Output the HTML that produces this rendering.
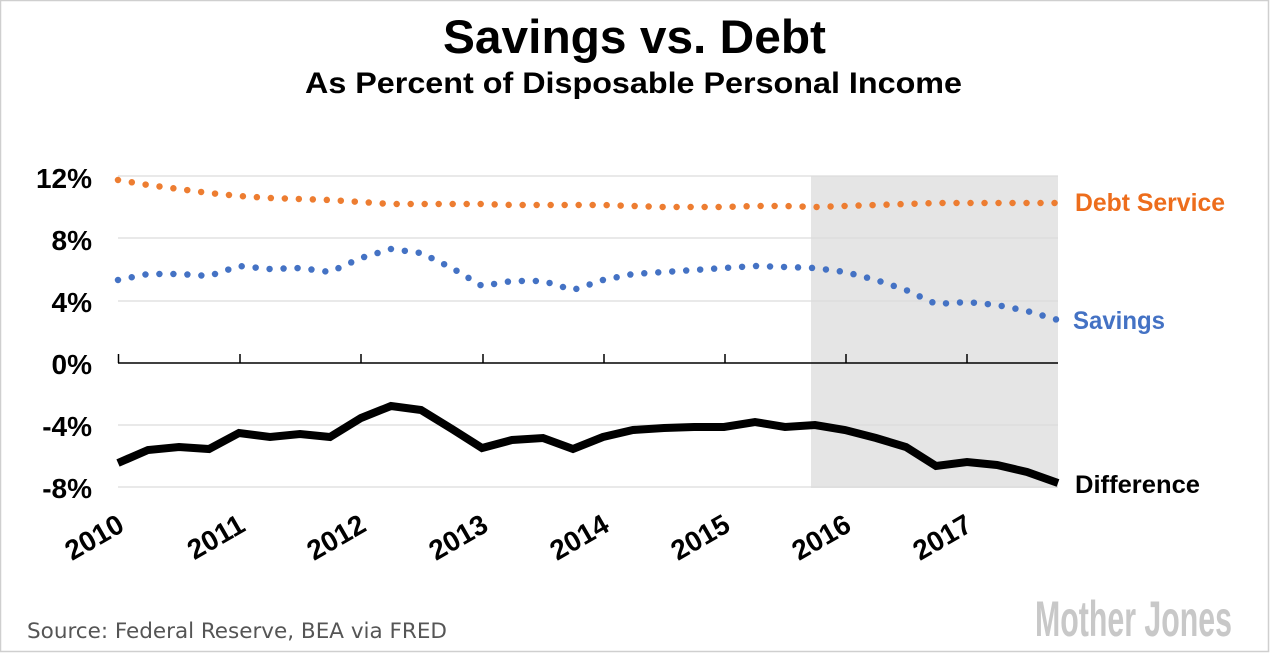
<!DOCTYPE html>
<html><head><meta charset="utf-8"><style>
html,body{margin:0;padding:0;background:#fff;}
svg{display:block;}
</style></head><body>
<svg width="1270" height="653" viewBox="0 0 1270 653" xmlns="http://www.w3.org/2000/svg" font-family="Liberation Sans, sans-serif">
<rect x="0.5" y="0.5" width="1268" height="651" fill="#fff" stroke="#cfcfcf" stroke-width="1.5"/>
<text x="443" y="53" textLength="383" lengthAdjust="spacingAndGlyphs" font-size="47" font-weight="bold" fill="#000">Savings vs. Debt</text>
<text x="305" y="93" textLength="657" lengthAdjust="spacingAndGlyphs" font-size="30" font-weight="bold" fill="#000">As Percent of Disposable Personal Income</text>
<rect x="811" y="176" width="247" height="312" fill="#e5e5e5"/>
<g stroke="#dcdcdc" stroke-width="1.2">
<line x1="118" y1="176" x2="1058" y2="176"/>
<line x1="118" y1="238" x2="1058" y2="238"/>
<line x1="118" y1="301" x2="1058" y2="301"/>
<line x1="118" y1="425" x2="1058" y2="425"/>
<line x1="118" y1="487" x2="1058" y2="487"/>
</g>
<g stroke="#000" stroke-width="1.5">
<line x1="118" y1="363" x2="1058" y2="363"/>
<line x1="118.5" y1="354" x2="118.5" y2="363"/>
<line x1="240" y1="354" x2="240" y2="363"/>
<line x1="361" y1="354" x2="361" y2="363"/>
<line x1="483" y1="354" x2="483" y2="363"/>
<line x1="604" y1="354" x2="604" y2="363"/>
<line x1="725" y1="354" x2="725" y2="363"/>
<line x1="846" y1="354" x2="846" y2="363"/>
<line x1="967" y1="354" x2="967" y2="363"/>
</g>
<g font-size="28" font-weight="bold" text-anchor="end" fill="#000">
<text x="92" y="188">12%</text>
<text x="92" y="250">8%</text>
<text x="92" y="312">4%</text>
<text x="92" y="374">0%</text>
<text x="92" y="436">-4%</text>
<text x="92" y="498">-8%</text>
</g>
<g font-size="28" font-weight="bold" text-anchor="end" fill="#000">
<text transform="translate(126,530) rotate(-30)">2010</text>
<text transform="translate(247,530) rotate(-30)">2011</text>
<text transform="translate(368,530) rotate(-30)">2012</text>
<text transform="translate(490,530) rotate(-30)">2013</text>
<text transform="translate(611,530) rotate(-30)">2014</text>
<text transform="translate(732,530) rotate(-30)">2015</text>
<text transform="translate(853,530) rotate(-30)">2016</text>
<text transform="translate(974,530) rotate(-30)">2017</text>
</g>
<polyline fill="none" stroke="#ed7d31" stroke-width="6.5" stroke-linecap="round" stroke-dasharray="0 14" points="118,180 148,185 179,189 209,193 239,196 270,198 300,199 330,200 361,202 391,204 421,204 452,204 482,204 512,205 543,205 573,205 603,205 633,206 664,207 694,207 724,207 755,206 785,206 815,207 845,206 876,205 906,204 936,203 967,203 997,203 1027,203 1058,203"/>
<polyline fill="none" stroke="#4472c4" stroke-width="6.5" stroke-linecap="round" stroke-dasharray="0 14" points="118,280 148,274 179,274 209,276 239,266 270,269 300,268 330,272 361,258 391,249 421,253 452,268 482,286 512,281 543,281 573,290 603,280 633,274 664,272 694,270 724,268 755,266 785,267 815,268 845,272 876,280 906,290 936,304 967,302 997,305 1027,311 1058,320"/>
<polyline fill="none" stroke="#000" stroke-width="8" stroke-linejoin="miter" points="118,463 148,450 179,447 209,449 239,433 270,437 300,434 330,437 361,418 391,406 421,410 452,429 482,448 512,440 543,438 573,449 603,437 633,430 664,428 694,427 724,427 755,422 785,427 815,425 845,430 876,438 906,447 936,466 967,462 997,465 1027,472 1058,483"/>
<g font-size="25" font-weight="bold">
<text x="1075" y="211" textLength="150" lengthAdjust="spacingAndGlyphs" fill="#ed6d1c">Debt Service</text>
<text x="1073" y="329" textLength="92" lengthAdjust="spacingAndGlyphs" fill="#4472c4">Savings</text>
<text x="1075" y="493" textLength="125" lengthAdjust="spacingAndGlyphs" fill="#000">Difference</text>
</g>
<text x="27" y="638" font-size="21" textLength="420" lengthAdjust="spacingAndGlyphs" fill="#555" font-family="DejaVu Sans Condensed, DejaVu Sans, sans-serif">Source: Federal Reserve, BEA via FRED</text>
<text x="1035" y="636" font-size="50" font-weight="bold" fill="#c8c8c8" textLength="197" lengthAdjust="spacingAndGlyphs">Mother Jones</text>
</svg>
</body></html>
